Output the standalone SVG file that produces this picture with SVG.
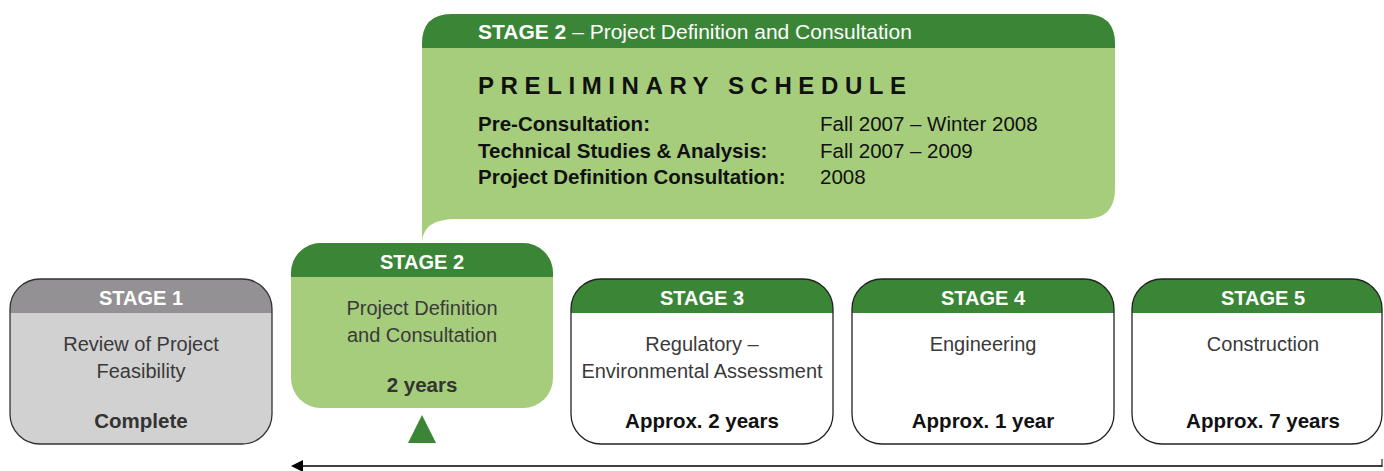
<svg xmlns="http://www.w3.org/2000/svg" width="1384" height="471" viewBox="0 0 1384 471">
<defs>
<style>
.hdr{font-family:"Liberation Sans",Arial,sans-serif;font-weight:bold;font-size:20px;fill:#fff;text-anchor:middle}
.body{font-family:"Liberation Sans",Arial,sans-serif;font-size:20px;fill:#3a3a3a;text-anchor:middle}
.dur{font-family:"Liberation Sans",Arial,sans-serif;font-weight:bold;font-size:20.5px;fill:#111;text-anchor:middle}
.lbl{font-family:"Liberation Sans",Arial,sans-serif;font-weight:bold;font-size:20.5px;fill:#111}
.val{font-family:"Liberation Sans",Arial,sans-serif;font-size:20.5px;fill:#111}
.dg{fill:#3a8636}
.lg{fill:#a5cd7c}
</style>
<clipPath id="c1"><rect x="10" y="279" width="262" height="165" rx="30"/></clipPath>
<clipPath id="c2"><rect x="291" y="243" width="262" height="165" rx="30"/></clipPath>
<clipPath id="c3"><rect x="571" y="279" width="262" height="165" rx="30"/></clipPath>
<clipPath id="c4"><rect x="852" y="279" width="262" height="165" rx="30"/></clipPath>
<clipPath id="c5"><rect x="1132" y="279" width="250" height="165" rx="30"/></clipPath>
<clipPath id="cc"><path d="M452,14 H1085 Q1115,14 1115,44 V189 Q1115,219 1085,219 H456 Q424,219 422,241 V44 Q422,14 452,14 Z"/></clipPath>
</defs>

<g id="callout">
<g clip-path="url(#cc)">
<rect x="420" y="10" width="700" height="240" class="lg"/>
<rect x="420" y="10" width="700" height="38" class="dg"/>
</g>
<text x="478" y="39" font-family="Liberation Sans,Arial,sans-serif" font-size="21" fill="#fff"><tspan font-weight="bold">STAGE 2</tspan> – Project Definition and Consultation</text>
<text x="478" y="94" font-family="Liberation Sans,Arial,sans-serif" font-size="24" font-weight="bold" fill="#111" letter-spacing="6.6">PRELIMINARY SCHEDULE</text>
<text x="478" y="131" class="lbl">Pre-Consultation:</text>
<text x="478" y="158" class="lbl">Technical Studies &amp; Analysis:</text>
<text x="478" y="184" class="lbl">Project Definition Consultation:</text>
<text x="820" y="131" class="val">Fall 2007 – Winter 2008</text>
<text x="820" y="158" class="val">Fall 2007 – 2009</text>
<text x="820" y="184" class="val">2008</text>
</g>

<g id="stage1">
<g clip-path="url(#c1)">
<rect x="10" y="279" width="262" height="165" fill="#d1d1d1"/>
<rect x="10" y="279" width="262" height="34" fill="#939193"/>
</g>
<rect x="10" y="279" width="262" height="165" rx="30" fill="none" stroke="#333" stroke-width="1.3"/>
<text x="141" y="305" class="hdr">STAGE 1</text>
<text x="141" y="351" class="body">Review of Project</text>
<text x="141" y="378" class="body">Feasibility</text>
<text x="141" y="428" class="dur" style="fill:#333">Complete</text>
</g>

<g id="stage2">
<g clip-path="url(#c2)">
<rect x="291" y="243" width="262" height="165" class="lg"/>
<rect x="291" y="243" width="262" height="34" class="dg"/>
</g>
<text x="422" y="269" class="hdr">STAGE 2</text>
<text x="422" y="315" class="body">Project Definition</text>
<text x="422" y="342" class="body">and Consultation</text>
<text x="422" y="392" class="dur" style="fill:#333">2 years</text>
<path d="M422,415 L436,443 L408,443 Z" class="dg"/>
</g>

<g id="stage3">
<g clip-path="url(#c3)">
<rect x="571" y="279" width="262" height="165" fill="#fff"/>
<rect x="571" y="279" width="262" height="34" class="dg"/>
</g>
<rect x="571" y="279" width="262" height="165" rx="30" fill="none" stroke="#222" stroke-width="1.3"/>
<text x="702" y="305" class="hdr">STAGE 3</text>
<text x="702" y="351" class="body">Regulatory –</text>
<text x="702" y="378" class="body">Environmental Assessment</text>
<text x="702" y="428" class="dur">Approx. 2 years</text>
</g>

<g id="stage4">
<g clip-path="url(#c4)">
<rect x="852" y="279" width="262" height="165" fill="#fff"/>
<rect x="852" y="279" width="262" height="34" class="dg"/>
</g>
<rect x="852" y="279" width="262" height="165" rx="30" fill="none" stroke="#222" stroke-width="1.3"/>
<text x="983" y="305" class="hdr">STAGE 4</text>
<text x="983" y="351" class="body">Engineering</text>
<text x="983" y="428" class="dur">Approx. 1 year</text>
</g>

<g id="stage5">
<g clip-path="url(#c5)">
<rect x="1132" y="279" width="252" height="165" fill="#fff"/>
<rect x="1132" y="279" width="252" height="34" class="dg"/>
</g>
<rect x="1132" y="279" width="250" height="165" rx="30" fill="none" stroke="#222" stroke-width="1.3"/>
<text x="1263" y="305" class="hdr">STAGE 5</text>
<text x="1263" y="351" class="body">Construction</text>
<text x="1263" y="428" class="dur">Approx. 7 years</text>
</g>

<g id="connectors">
<line x1="1382" y1="466" x2="300" y2="466" stroke="#000" stroke-width="1.5"/>
<path d="M291,466 L303,460 L303,472 Z" fill="#000"/>
<line x1="1382" y1="459" x2="1382" y2="467" stroke="#000" stroke-width="1"/>
</g>
</svg>
